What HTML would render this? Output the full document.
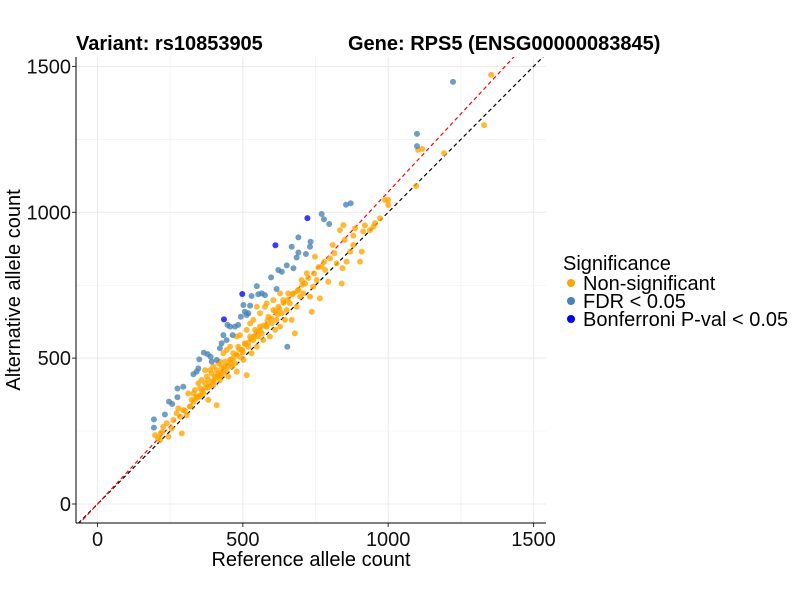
<!DOCTYPE html>
<html><head><meta charset="utf-8"><style>
body{margin:0;background:#fff;font-family:"Liberation Sans",Arial,sans-serif}
svg text{font-family:"Liberation Sans",Arial,sans-serif}
</style></head><body>
<svg id="chart" width="800" height="600" xmlns="http://www.w3.org/2000/svg">
<rect width="800" height="600" fill="#fff"/>
<defs><clipPath id="pc"><rect x="76" y="57" width="470" height="466"/></clipPath></defs>
<g id="grid"></g>
<g id="lines" clip-path="url(#pc)"></g>
<g id="pts" clip-path="url(#pc)"></g>
<g id="axes"></g>
<text x="76" y="50" font-size="20" font-weight="bold">Variant: rs10853905</text>
<text x="348" y="50" font-size="20" font-weight="bold">Gene: RPS5 (ENSG00000083845)</text>
<text x="311" y="566" font-size="20" text-anchor="middle">Reference allele count</text>
<text transform="translate(20,290) rotate(-90)" font-size="20" text-anchor="middle">Alternative allele count</text>
<g>
<text x="563" y="270" font-size="20">Significance</text>
<circle cx="571" cy="283" r="4" fill="#FFA500"/><text x="583" y="290" font-size="20">Non-significant</text>
<circle cx="571" cy="301" r="4" fill="#4682B4"/><text x="583" y="308" font-size="20">FDR &lt; 0.05</text>
<circle cx="571" cy="319" r="4" fill="#0000FF"/><text x="583" y="326" font-size="20">Bonferroni P-val &lt; 0.05</text>
</g>
</svg>
<script>
const xTicks=[0,500,1000,1500];
const yTicks=[0,500,1000,1500];
const minorTicks=[250,750,1250];
const fdrX=[194,194,232,246,257,275,275,295,330,341,347,350,366,379,389,393,410,421,427,433,444,447,456,465,473,484,493,502,507,513,519,525,530,548,553,565,576,597,616,622,634,651,674,668,685,691,691,717,731,733,771,779,797,855,871,653,1223,1099,1099];
const fdrY=[290,262,307,351,343,396,366,402,445,454,465,496,519,514,505,488,494,534,551,579,562,614,608,579,608,614,642,682,659,648,654,680,713,747,719,722,716,777,737,802,796,818,808,882,845,914,862,857,882,899,994,976,960,1026,1031,539,1447,1269,1227];
const bonX=[435,498,612,722];
const bonY=[633,720,887,980];
const nsX=[198,215,217,226,238,244,255,261,272,278,284,290,295,307,318,324,330,335,341,347,353,358,364,370,376,381,387,393,398,404,410,416,421,427,433,439,444,450,456,462,467,473,479,484,490,496,502,507,513,519,525,530,536,542,548,553,559,565,570,576,582,588,593,599,605,611,616,622,628,634,639,645,651,656,662,668,674,679,685,691,697,702,708,714,720,731,737,742,748,754,765,771,783,794,800,809,823,834,840,843,846,857,869,880,886,903,909,914,937,949,972,1000,1000,410,421,381,398,433,456,479,513,536,559,582,421,444,490,525,548,605,628,312,347,370,989,1103,1117,1192,1330,1354,1096,955,208,222,350,380,420,460,500,540,580,620,300,330,360,400,
 320,340,355,372,385,395,405,415,425,436,448,458,468,478,488,498,508,518,528,538,548,560,572,585,598,612,626,640,655,670,688,705,725,745,760,780,815,850,880,920];
const nsY=[236,219,242,265,277,231,259,288,311,328,299,242,322,305,334,357,379,391,368,414,397,425,379,414,437,425,459,448,471,437,459,482,425,471,448,488,459,437,494,471,517,482,454,539,505,528,494,551,442,539,574,517,562,597,539,574,608,585,562,676,608,642,574,619,665,597,631,676,608,654,699,631,665,722,688,631,722,585,676,734,711,768,722,756,791,711,659,745,848,768,705,814,802,762,842,888,825,939,756,808,956,831,865,888,945,831,865,934,939,950,979,1042,1025,339,437,357,408,517,539,574,597,631,654,688,488,528,579,619,676,699,722,379,368,459,1042,1214,1217,1203,1299,1471,1090,963,226,247,370,400,440,480,520,575,610,650,320,350,385,420,
 335,362,372,398,405,420,432,446,452,470,475,495,500,512,530,528,548,552,565,574,590,595,612,628,636,660,668,690,700,718,730,752,775,790,812,830,860,905,920,955];
const X=v=>97.5+v*0.2907, Y=v=>504-v*0.2917;
const NS='http://www.w3.org/2000/svg';
function mk(tag,attrs,parent){const e=document.createElementNS(NS,tag);for(const k in attrs)e.setAttribute(k,attrs[k]);parent.appendChild(e);return e;}
const g=document.getElementById('grid'),ax=document.getElementById('axes'),ln=document.getElementById('lines'),pg=document.getElementById('pts');
minorTicks.forEach(t=>{
 let a=mk('line',{x1:X(t),x2:X(t),y1:57,y2:523,stroke:'#f2f2f2','stroke-width':0.7},g);
 
 let b=mk('line',{x1:76,x2:546,y1:Y(t),y2:Y(t),stroke:'#f2f2f2','stroke-width':0.7},g);
 
});
xTicks.forEach(t=>{
 let a=mk('line',{x1:X(t),x2:X(t),y1:57,y2:523,stroke:'#ebebeb','stroke-width':1},g);
 
 let tk=mk('line',{x1:X(t),x2:X(t),y1:523,y2:527,stroke:'#333'},ax);
 
 let tx=mk('text',{x:X(t),y:546,'font-size':20,'text-anchor':'middle',fill:'#111'},ax);tx.textContent=t;
 
});
yTicks.forEach(t=>{
 let a=mk('line',{x1:76,x2:546,y1:Y(t),y2:Y(t),stroke:'#ebebeb','stroke-width':1},g);
 
 let tk=mk('line',{x1:72,x2:76,y1:Y(t),y2:Y(t),stroke:'#333'},ax);
 
 let tx=mk('text',{x:71,y:Y(t)+7,'font-size':20,'text-anchor':'end',fill:'#111'},ax);tx.textContent=t;
 
});
let xa=mk('line',{x1:76,x2:546,y1:523,y2:523,stroke:'#000'},ax);

let ya=mk('line',{x1:76,x2:76,y1:57,y2:523,stroke:'#000'},ax);

let d1=mk('line',{x1:X(-100),y1:Y(-100),x2:X(1700),y2:Y(1700),stroke:'#000','stroke-dasharray':'4,3','stroke-width':1.2},ln);

let d2=mk('line',{x1:X(-100),y1:Y(-107),x2:X(1700),y2:Y(1819),stroke:'#ff0000','stroke-dasharray':'4,3','stroke-width':1.2},ln);

function draw(xs,ys,col,name){xs.forEach((v,i)=>{
 let c=mk('circle',{cx:X(v),cy:Y(ys[i]),r:3,fill:col,'fill-opacity':0.78},pg);
 });}
draw(nsX,nsY,'#FFA500','point-nonsignificant');
draw(fdrX,fdrY,'#4682B4','point-fdr');
draw(bonX,bonY,'#0000FF','point-bonferroni');
</script>
</body></html>
